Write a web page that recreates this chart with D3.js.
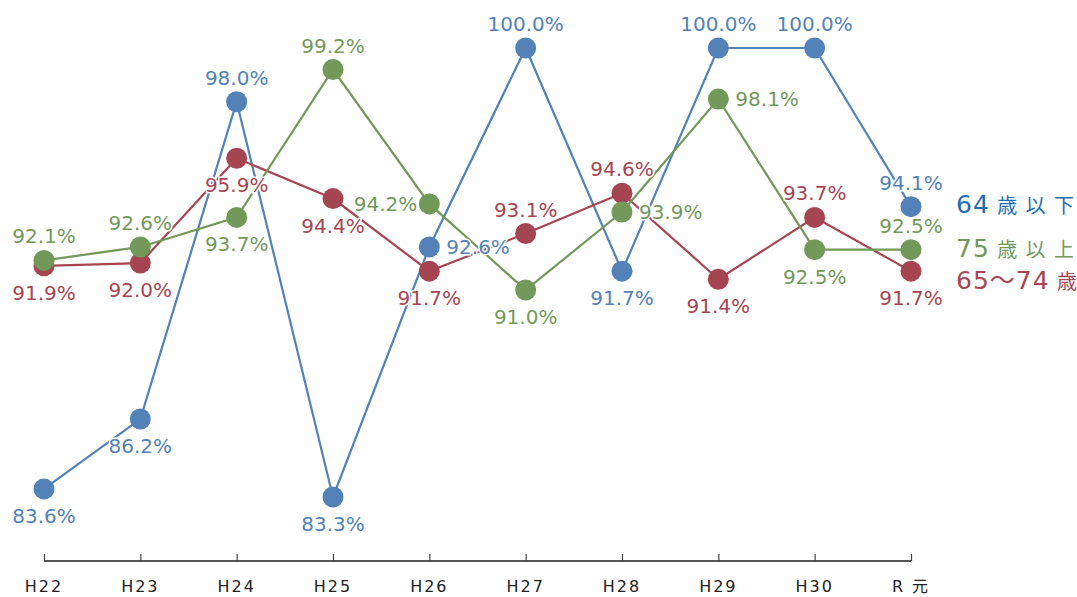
<!DOCTYPE html>
<html>
<head>
<meta charset="utf-8">
<script src="https://cdn.jsdelivr.net/npm/d3@7"></script>
<style>
  body { margin: 0; background: #fff; }
  text { font-family: "DejaVu Sans", "Noto Sans CJK JP", sans-serif; }
</style>
</head>
<body>
<div id="chart"></div>
<script>
// categories (fiscal years)
var years = ["H22", "H23", "H24", "H25", "H26", "H27", "H28", "H29", "H30", "R元"];

// values (%)
var under64 = [83.6, 86.2, 98.0, 83.3, 92.6, 100.0, 91.7, 100.0, 100.0, 94.1];
var age65to74 = [91.9, 92.0, 95.9, 94.4, 91.7, 93.1, 94.6, 91.4, 93.7, 91.7];
var over75 = [92.1, 92.6, 93.7, 99.2, 94.2, 91.0, 93.9, 98.1, 92.5, 92.5];

// where each value label sits: t = above, b = below, r = right, l = left
var under64Pos = ["b", "b", "t", "b", "r", "t", "b", "t", "t", "t"];
var age65to74Pos = ["b", "b", "b", "b", "b", "t", "t", "b", "t", "b"];
var over75Pos = ["t", "t", "b", "t", "l", "b", "r", "r", "b", "t"];

var width = 1077, height = 597;

var svg = d3.select("#chart")
    .append("svg")
    .attr("width", width)
    .attr("height", height);

var x = d3.scalePoint()
    .domain(years)
    .range([44, 911]);

var y = d3.scaleLinear()
    .domain([80.92, 100])
    .range([561, 48]);

// x axis, ticks pointing up
var axis = svg.append("g")
    .attr("transform", "translate(0,561)")
    .call(d3.axisTop(x).tickSize(7).tickSizeOuter(0).tickFormat(""));
axis.select(".domain").attr("stroke", "#555").attr("stroke-width", 2)
    .attr("d", "M" + x(years[0]) + ",0H" + x(years[years.length - 1]));
axis.selectAll(".tick line").attr("stroke", "#444").attr("stroke-width", 1.2);

svg.append("g").selectAll("text")
    .data(years)
    .enter()
    .append("text")
    .attr("x", function (d) { return x(d); })
    .attr("y", 592)
    .attr("text-anchor", "middle")
    .style("font-size", "16px")
    .style("letter-spacing", "2px")
    .style("fill", "#222")
    .text(function (d) { return d === "R元" ? "R 元" : d; });

var series = [
    {name: "64歳以下", values: under64, pos: under64Pos, color: "#5282b8"},
    {name: "65〜74歳", values: age65to74, pos: age65to74Pos, color: "#a64552"},
    {name: "75歳以上", values: over75, pos: over75Pos, color: "#72995a"}
];

var line = d3.line()
    .x(function (d, i) { return x(years[i]); })
    .y(function (d) { return y(d); });

series.forEach(function (s) {
    var g = svg.append("g");
    g.append("path")
        .datum(s.values)
        .attr("d", line)
        .attr("fill", "none")
        .attr("stroke", s.color)
        .attr("stroke-width", 2.2);
    g.selectAll("circle")
        .data(s.values)
        .enter()
        .append("circle")
        .attr("cx", function (d, i) { return x(years[i]); })
        .attr("cy", function (d) { return y(d); })
        .attr("r", 10.5)
        .attr("fill", s.color);
});

// value labels on top, with white halo
series.forEach(function (s) {
    svg.append("g").selectAll("text")
        .data(s.values)
        .enter()
        .append("text")
        .attr("x", function (d, i) {
            var p = s.pos[i], cx = x(years[i]);
            if (p === "r") return cx + 17;
            if (p === "l") return cx - 12;
            return cx;
        })
        .attr("y", function (d, i) {
            var p = s.pos[i], cy = y(d);
            if (p === "t") return cy - 17;
            if (p === "b") return cy + 34;
            return cy + 7;
        })
        .attr("text-anchor", function (d, i) {
            var p = s.pos[i];
            return p === "r" ? "start" : p === "l" ? "end" : "middle";
        })
        .style("font-size", "20px")
        .style("fill", s.color)
        .style("stroke", "#fff")
        .style("stroke-width", 3)
        .style("paint-order", "stroke")
        .text(function (d) { return d.toFixed(1) + "%"; });
});

// legend at the right end
var legend = [
    {num: "64", rest: " 歳 以 下", color: "#1f6db5", y: 213},
    {num: "75", rest: " 歳 以 上", color: "#72995a", y: 257},
    {num: "65〜74", rest: " 歳", color: "#a64552", y: 289}
];
var lt = svg.append("g").selectAll("text")
    .data(legend)
    .enter()
    .append("text")
    .attr("x", 956)
    .attr("y", function (d) { return d.y; })
    .style("fill", function (d) { return d.color; });
lt.append("tspan")
    .style("font-size", "25px")
    .style("letter-spacing", "1px")
    .text(function (d) { return d.num; });
lt.append("tspan")
    .style("font-size", "20px")
    .style("letter-spacing", "1px")
    .text(function (d) { return d.rest; });
</script>
</body>
</html>
